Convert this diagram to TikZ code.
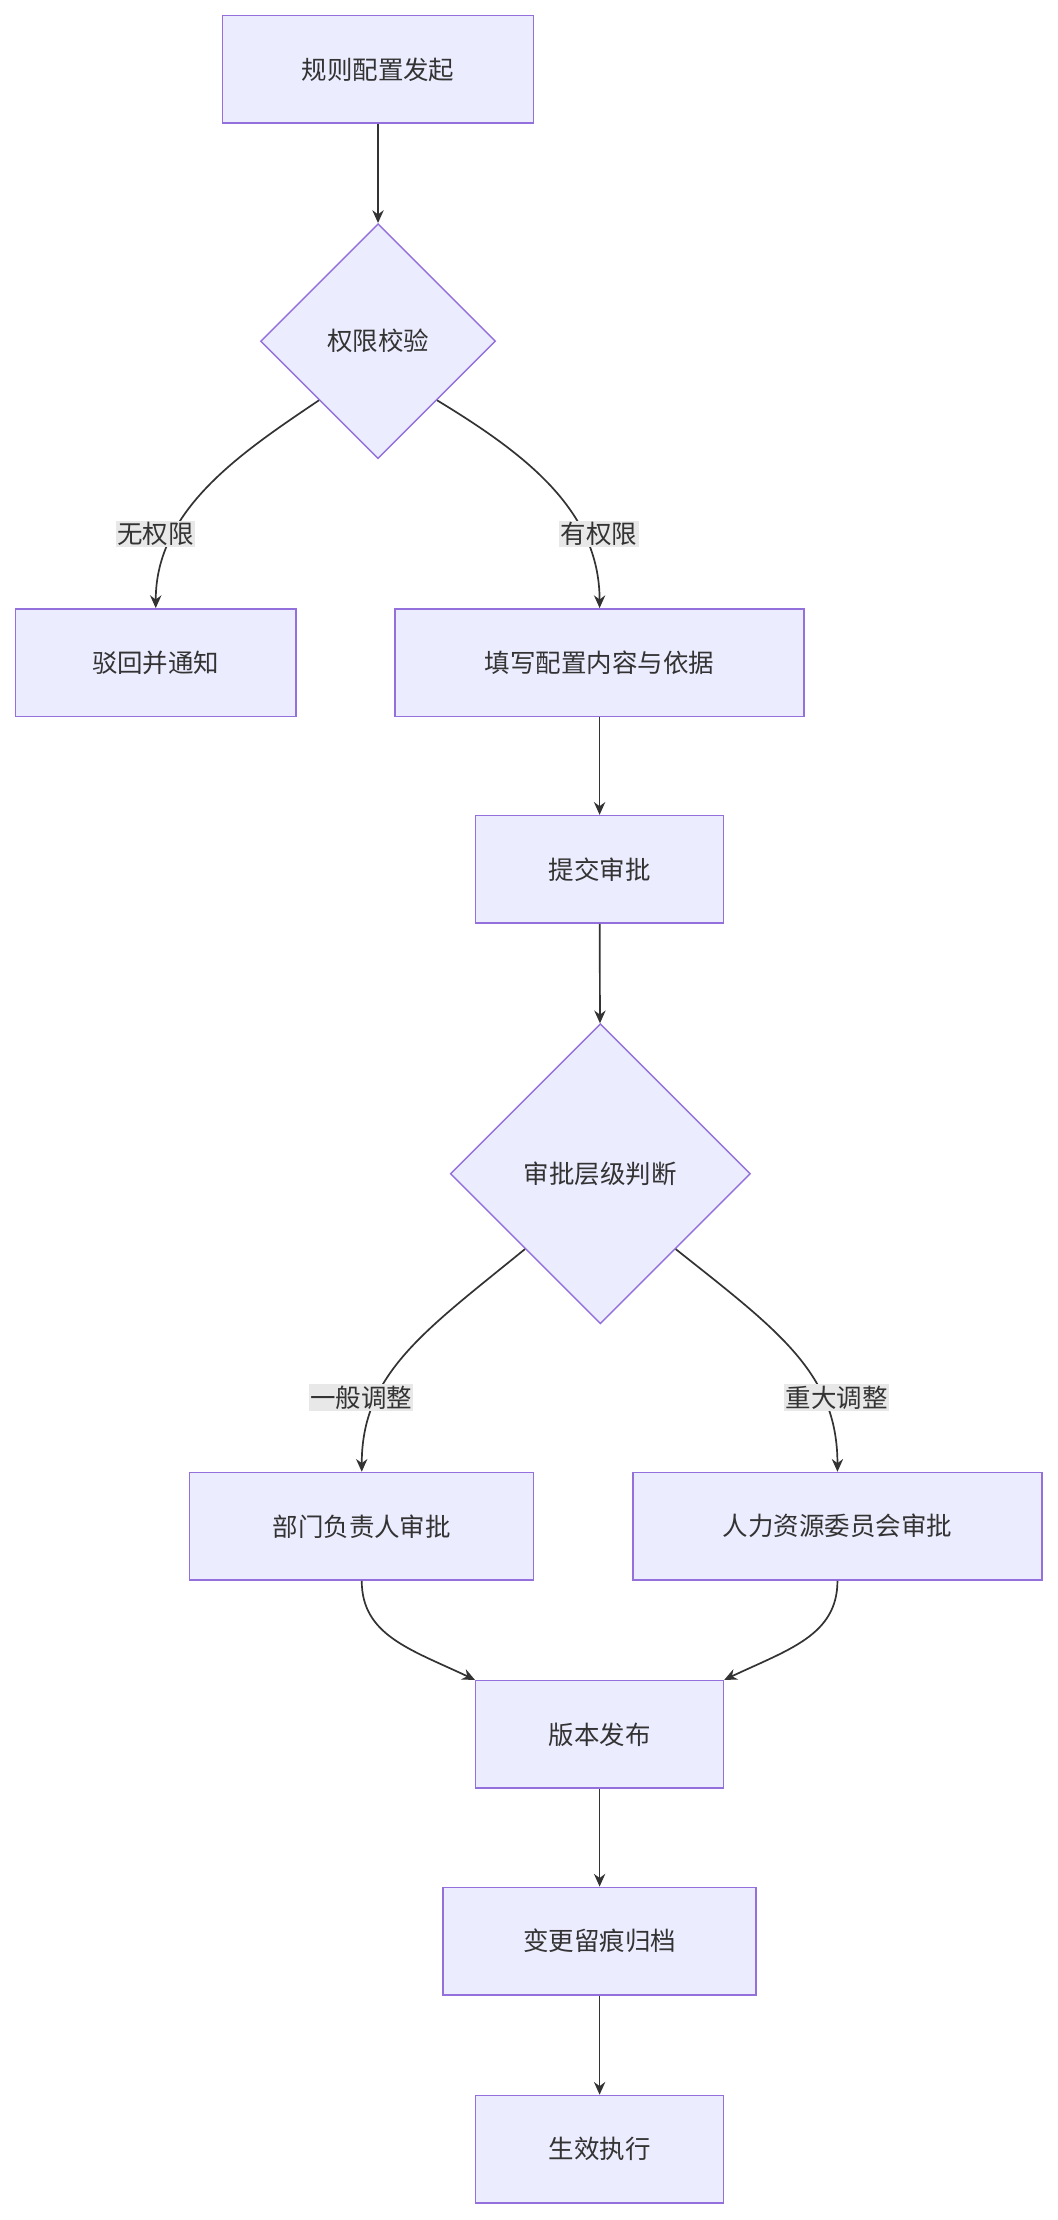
\documentclass[tikz,border=0pt]{standalone}
\usepackage{fontspec}
\setmainfont{Noto Sans CJK SC}
\usetikzlibrary{shapes.geometric,arrows.meta}
\definecolor{nfill}{HTML}{ECECFF}
\definecolor{nstroke}{HTML}{9370DB}
\definecolor{ln}{HTML}{333333}
\definecolor{lbl}{HTML}{E8E8E8}
\begin{document}
\begin{tikzpicture}[x=1pt,y=-1pt,
  box/.style={draw=nstroke,fill=nfill,line width=1pt,text=ln,font=\fontsize{18}{20}\selectfont,inner sep=0pt},
  dia/.style={draw=nstroke,fill=nfill,line width=1pt,text=ln,font=\fontsize{18}{20}\selectfont,diamond,inner sep=0pt,aspect=1},
  lab/.style={fill=lbl,text=ln,font=\fontsize{18}{20}\selectfont,inner sep=1pt},
  ar/.style={draw=ln,line width=1.2pt,-{Stealth[length=9pt,width=8pt]}}]
\useasboundingbox[fill=white] (0,0) rectangle (747,1568);
\node[box,minimum width=220,minimum height=76] (a) at (267,49) {规则配置发起};
\node[dia,minimum width=166,minimum height=166] (d1) at (267,241) {权限校验};
\node[box,minimum width=198,minimum height=76] (r) at (110,468) {驳回并通知};
\node[box,minimum width=289,minimum height=76] (f) at (423.5,468) {填写配置内容与依据};
\node[box,minimum width=175,minimum height=76] (s) at (423.5,614) {提交审批};
\node[dia,minimum width=212,minimum height=212] (d2) at (424,829) {审批层级判断};
\node[box,minimum width=243,minimum height=76] (p1) at (255.5,1078) {部门负责人审批};
\node[box,minimum width=289,minimum height=76] (p2) at (591.5,1078) {人力资源委员会审批};
\node[box,minimum width=175,minimum height=76] (v) at (423.5,1225) {版本发布};
\node[box,minimum width=221,minimum height=76] (g) at (423.5,1371) {变更留痕归档};
\node[box,minimum width=175,minimum height=76] (e) at (423.5,1518) {生效执行};
\draw[ar] (a) -- (d1);
\draw[ar] (d1.south west) .. controls (170,320) and (110,360) .. (r.north);
\draw[ar] (d1.south east) .. controls (370,320) and (423.5,360) .. (f.north);
\node[lab] (l1) at (110,377) {无权限};
\node[lab] (l2) at (423,377) {有权限};
\draw[ar] (f) -- (s);
\draw[ar] (s) -- (d2);
\draw[ar] (d2.south west) .. controls (300,940) and (255.5,970) .. (p1.north);
\draw[ar] (d2.south east) .. controls (550,940) and (591.5,970) .. (p2.north);
\node[lab] (l3) at (255,987) {一般调整};
\node[lab] (l4) at (591,987) {重大调整};
\draw[ar] (p1.south) .. controls (255.5,1155) and (290,1165) .. (v.north west);
\draw[ar] (p2.south) .. controls (591.5,1155) and (557,1165) .. (v.north east);
\draw[ar] (v) -- (g);
\draw[ar] (g) -- (e);
\end{tikzpicture}
\end{document}
